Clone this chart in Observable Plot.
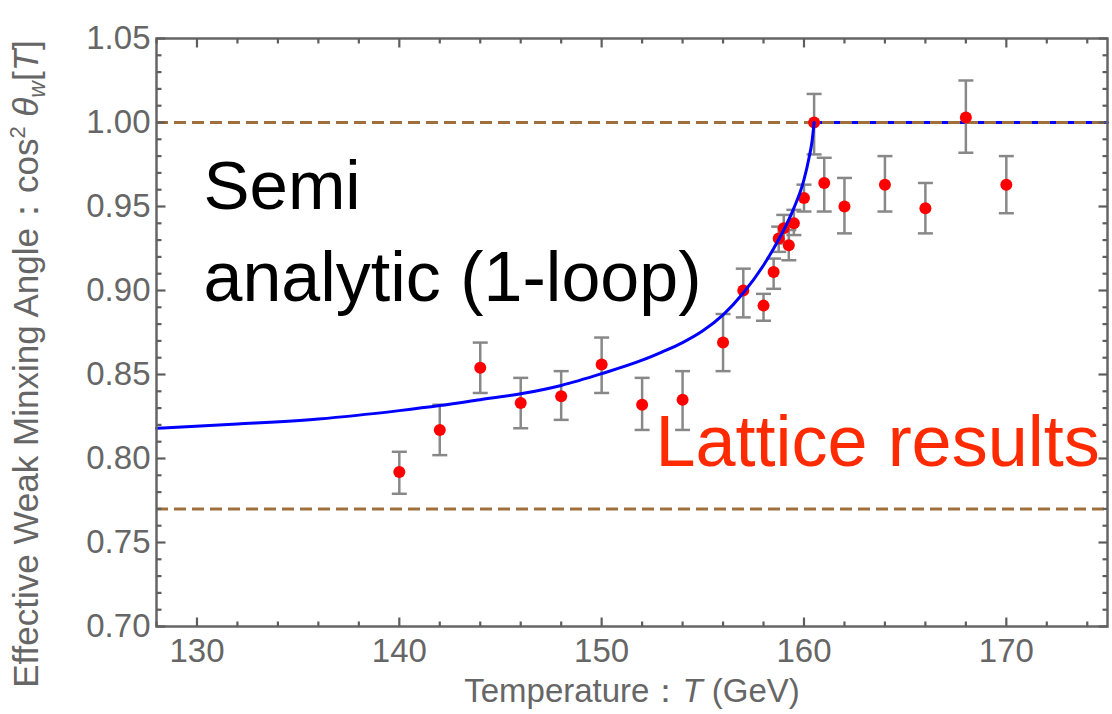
<!DOCTYPE html>
<html><head><meta charset="utf-8">
<script src="https://cdn.jsdelivr.net/npm/d3@7"></script>
<script src="https://cdn.jsdelivr.net/npm/@observablehq/plot@0.6"></script>
<style>body{margin:0;background:#fff}</style>
</head><body><div id="chart"></div>
<script>
// Lattice data points
const temps   = [140,142,144,146,148,150,152,154,156,157,158,158.5,158.75,159,159.25,159.5,160,160.5,161,162,164,166,168,170];
const values  = [0.792,0.817,0.854,0.833,0.837,0.856,0.832,0.835,0.869,0.900,0.891,0.911,0.931,0.937,0.927,0.940,0.955,1.000,0.964,0.950,0.963,0.949,1.003,0.963];
const errLow  = [0.779,0.802,0.839,0.818,0.823,0.839,0.817,0.817,0.852,0.884,0.882,0.901,0.923,0.928,0.918,0.933,0.947,0.981,0.947,0.934,0.947,0.934,0.982,0.946];
const errHigh = [0.804,0.832,0.869,0.848,0.852,0.872,0.848,0.852,0.886,0.913,0.898,0.919,0.938,0.945,0.936,0.948,0.963,1.017,0.979,0.967,0.980,0.964,1.025,0.980];
// Semi-analytic (1-loop) curve
const curveT = [128,132,136,140,142,144,146,148,150,152,153,154,155,156,157,158,158.5,159,159.5,160,160.25,160.4,160.5];
const curveY = [0.818,0.8205,0.8235,0.8285,0.8315,0.835,0.8385,0.8435,0.8505,0.8585,0.8635,0.869,0.876,0.8855,0.8985,0.915,0.925,0.936,0.949,0.966,0.979,0.989,1.000];
const flatT = [160.5, 175];
const flatY = [1.0, 1.0];
// reference (dashed) levels
const refLevels = [1.00, 0.77];
// ticks
const xTicks = [130,140,150,160,170];
const xMinor = [128,132,134,136,138,142,144,146,148,152,154,156,158,162,164,166,168,172,174];
const yTicks = [0.70,0.75,0.80,0.85,0.90,0.95,1.00,1.05];
const yMinor = [0.71,0.72,0.73,0.74,0.76,0.77,0.78,0.79,0.81,0.82,0.83,0.84,0.86,0.87,0.88,0.89,0.91,0.92,0.93,0.94,0.96,0.97,0.98,0.99,1.01,1.02,1.03,1.04];

const pts = temps.map((t,i)=>({T:t, v:values[i], lo:errLow[i], hi:errHigh[i]}));
const curve = curveT.map((t,i)=>({T:t, v:curveY[i]}));
const flat = flatT.map((t,i)=>({T:t, v:flatY[i]}));
const capSymbol = {draw(ctx, size){ const w = Math.sqrt(size/Math.PI); ctx.moveTo(-w,0); ctx.lineTo(w,0); }};
// one-sided tick symbols (length = r), pointing into the frame
const tickUp    = {draw(ctx, size){ const l = Math.sqrt(size/Math.PI); ctx.moveTo(0,0); ctx.lineTo(0,-l); }};
const tickDown  = {draw(ctx, size){ const l = Math.sqrt(size/Math.PI); ctx.moveTo(0,0); ctx.lineTo(0,l); }};
const tickRight = {draw(ctx, size){ const l = Math.sqrt(size/Math.PI); ctx.moveTo(0,0); ctx.lineTo(l,0); }};
const tickLeft  = {draw(ctx, size){ const l = Math.sqrt(size/Math.PI); ctx.moveTo(0,0); ctx.lineTo(-l,0); }};

const axisGray = "#666";
const tk = {stroke: "#5e5e5e", strokeWidth: 2.2, fill: "none"};
const tickMarks = [];
for (const [arr, len] of [[xTicks, 9], [xMinor, 5]]) {
  tickMarks.push(Plot.dot(arr, {x: d=>d, frameAnchor: "bottom", symbol: tickUp, r: len, ...tk}));
  tickMarks.push(Plot.dot(arr, {x: d=>d, frameAnchor: "top", symbol: tickDown, r: len, ...tk}));
}
for (const [arr, len] of [[yTicks, 9], [yMinor, 5]]) {
  tickMarks.push(Plot.dot(arr, {y: d=>d, frameAnchor: "left", symbol: tickRight, r: len, ...tk}));
  tickMarks.push(Plot.dot(arr, {y: d=>d, frameAnchor: "right", symbol: tickLeft, r: len, ...tk}));
}

const chart = Plot.plot({
  width: 1112, height: 714,
  marginLeft: 156, marginRight: 5, marginTop: 38, marginBottom: 88,
  style: {fontFamily: "'Liberation Sans', Arial, sans-serif", background: "white"},
  x: {domain: [128, 175]},
  y: {domain: [0.70, 1.05]},
  marks: [
    Plot.axisX(xTicks, {anchor: "bottom", tickSize: 0, tickPadding: 12, fontSize: 33, color: axisGray, label: null}),
    Plot.axisY(yTicks, {anchor: "left", tickSize: 0, tickPadding: 6, fontSize: 33, color: axisGray, label: null, tickFormat: d3.format(".2f")}),
    Plot.line(flat, {x: "T", y: "v", stroke: "#0000ff", strokeWidth: 3}),
    Plot.ruleY(refLevels, {y: d=>d, stroke: "#a0703c", strokeWidth: 3, strokeDasharray: "12,6"}),
    Plot.ruleX(pts, {x: "T", y1: "lo", y2: "hi", stroke: "#888", strokeWidth: 2.5}),
    Plot.dot(pts, {x: "T", y: "lo", symbol: capSymbol, r: 7.5, stroke: "#888", strokeWidth: 2.5, fill: "none"}),
    Plot.dot(pts, {x: "T", y: "hi", symbol: capSymbol, r: 7.5, stroke: "#888", strokeWidth: 2.5, fill: "none"}),
    Plot.dot(pts, {x: "T", y: "v", r: 6, fill: "#ff0000", stroke: "none"}),
    Plot.line(curve, {x: "T", y: "v", stroke: "#0000ff", strokeWidth: 3, curve: "monotone-x"}),
    Plot.text(["Semi"], {text: d=>d, frameAnchor: "top-left", dx: 47, dy: 170, textAnchor: "start", lineAnchor: "bottom", fontSize: 69, fill: "black"}),
    Plot.text(["analytic (1-loop)"], {text: d=>d, frameAnchor: "top-left", dx: 47, dy: 262, textAnchor: "start", lineAnchor: "bottom", fontSize: 70, fill: "black"}),
    Plot.text(["Lattice results"], {text: d=>d, frameAnchor: "top-left", dx: 499, dy: 427, textAnchor: "start", lineAnchor: "bottom", fontSize: 72, fill: "#ff2a00"}),
    Plot.frame({stroke: axisGray, strokeWidth: 2.5}),
    ...tickMarks
  ]
});
document.getElementById("chart").append(chart);

const svg = d3.select(chart);
// Axis titles with sub/superscripts
const yl = svg.append("text")
  .attr("transform", "translate(38,364) rotate(-90)")
  .attr("text-anchor", "middle")
  .attr("fill", axisGray)
  .attr("font-size", 35)
  .attr("font-family", "'Liberation Sans', Arial, sans-serif");
yl.append("tspan").text("Effective Weak Minxing Angle：cos");
yl.append("tspan").attr("dy", -13).attr("font-size", 22).text("2");
yl.append("tspan").attr("dy", 13).text(" ");
yl.append("tspan").attr("font-style", "italic").text("θ");
yl.append("tspan").attr("dy", 7).attr("font-size", 23).attr("font-style", "italic").text("w");
yl.append("tspan").attr("dy", -7).text("[");
yl.append("tspan").attr("font-style", "italic").text("T");
yl.append("tspan").text("]");

const xl = svg.append("text")
  .attr("x", 632).attr("y", 702)
  .attr("text-anchor", "middle")
  .attr("fill", axisGray)
  .attr("font-size", 33)
  .attr("font-family", "'Liberation Sans', Arial, sans-serif");
xl.append("tspan").text("Temperature：");
xl.append("tspan").attr("font-style", "italic").text("T");
xl.append("tspan").text(" (GeV)");
</script>
</body></html>
